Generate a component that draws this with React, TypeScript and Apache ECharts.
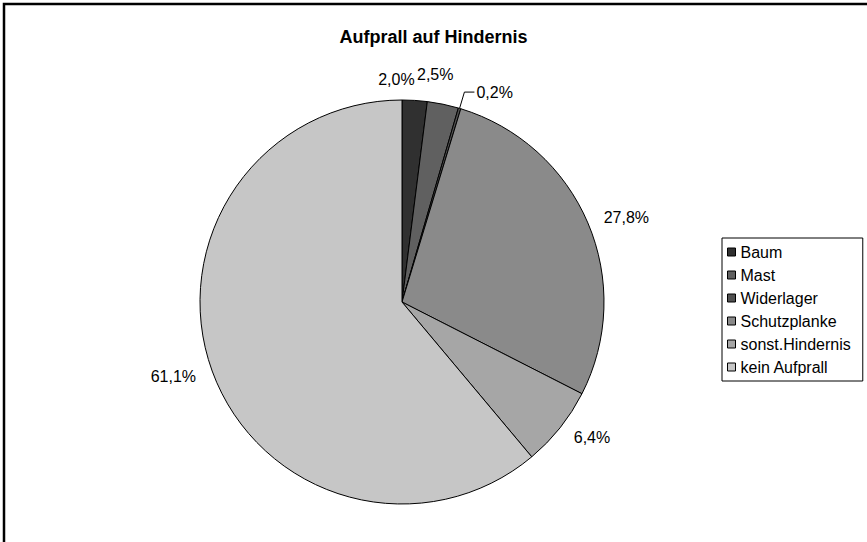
import { useEffect, useRef } from "react";
import * as echarts from "echarts";

const chartTitle = "Aufprall auf Hindernis";
const categories = ["Baum", "Mast", "Widerlager", "Schutzplanke", "sonst.Hindernis", "kein Aufprall"];
const shares = [2.0, 2.5, 0.2, 27.8, 6.4, 61.1];
const sliceColors = ["#303030", "#606060", "#505050", "#8a8a8a", "#a6a6a6", "#c6c6c6"];

export default function App() {
  const ref = useRef<HTMLDivElement>(null);
  useEffect(() => {
    document.body.style.margin = "0";
    const chart = echarts.init(ref.current!, null, { renderer: "svg" });
    const font = "'Liberation Sans', Arial, sans-serif";
    const nudge: Record<number, (r: any) => { dx: number; dy: number }> = {
      0: (r) => ({ dx: -r.width - 3, dy: -6 }),
      1: () => ({ dx: -31, dy: -15 }),
    };
    const data = categories.map((name, i) => ({
      name,
      value: shares[i],
      itemStyle: { color: sliceColors[i] },
      labelLine:
        name === "Widerlager"
          ? { show: true, length: 17, length2: 10, lineStyle: { color: "#000", width: 1 } }
          : { show: false, length: 15, length2: 0 },
    }));
    chart.setOption({
      animation: false,
      backgroundColor: "#ffffff",
      title: {
        text: chartTitle,
        left: "center",
        top: 28,
        padding: 0,
        textStyle: { fontFamily: font, fontSize: 18, fontWeight: "bold", color: "#000" },
      },
      legend: {
        orient: "vertical",
        left: 722,
        top: 238,
        itemWidth: 8,
        itemHeight: 8,
        itemGap: 7,
        padding: [6, 12, 6, 5],
        borderColor: "#000",
        borderWidth: 1,
        icon: "rect",
        selectedMode: false,
        itemStyle: { borderColor: "#000", borderWidth: 1 },
        textStyle: { fontFamily: font, fontSize: 16, lineHeight: 16, color: "#000" },
        data: categories,
      },
      graphic: [
        {
          type: "rect",
          silent: true,
          shape: { x: 4, y: 4, width: 2000, height: 2000 },
          style: { fill: "none", stroke: "#000", lineWidth: 2.5 },
        },
      ],
      series: [
        {
          type: "pie",
          center: [402, 302],
          radius: 202,
          startAngle: 90,
          clockwise: true,
          avoidLabelOverlap: false,
          itemStyle: { borderColor: "#000", borderWidth: 1 },
          label: {
            show: true,
            position: "outside",
            distanceToLabelLine: 2,
            fontFamily: font,
            fontSize: 16,
            color: "#000",
            formatter: (p: any) => p.value.toFixed(1).replace(".", ",") + "%",
          },
          labelLayout: (params: any) => {
            const f = nudge[params.dataIndex];
            return f ? f(params.labelRect) : {};
          },
          emphasis: { disabled: true },
          data,
        },
      ],
    });
    return () => chart.dispose();
  }, []);
  return <div ref={ref} style={{ position: "fixed", left: 0, top: 0, width: 867, height: 542 }} />;
}
